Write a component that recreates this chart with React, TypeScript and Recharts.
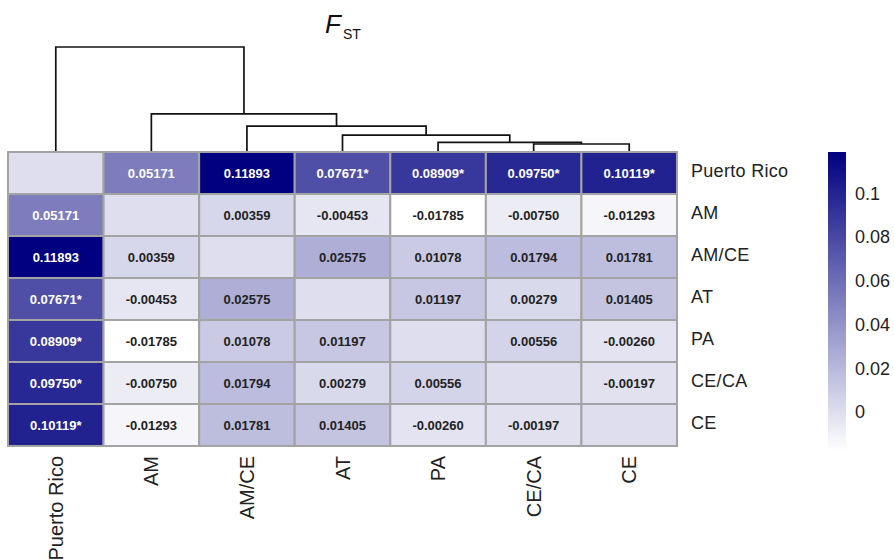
import React from 'react';
import { ScatterChart, Scatter, XAxis, YAxis, ReferenceArea, LineChart, Line, BarChart, Bar } from 'recharts';

// ---- data ----
const populations = ['Puerto Rico', 'AM', 'AM/CE', 'AT', 'PA', 'CE/CA', 'CE'];

const fstPuertoRico = [0, 0.05171, 0.11893, 0.07671, 0.08909, 0.0975, 0.10119];
const fstAM = [0.05171, 0, 0.00359, -0.00453, -0.01785, -0.0075, -0.01293];
const fstAMCE = [0.11893, 0.00359, 0, 0.02575, 0.01078, 0.01794, 0.01781];
const fstAT = [0.07671, -0.00453, 0.02575, 0, 0.01197, 0.00279, 0.01405];
const fstPA = [0.08909, -0.01785, 0.01078, 0.01197, 0, 0.00556, -0.0026];
const fstCECA = [0.0975, -0.0075, 0.01794, 0.00279, 0.00556, 0, -0.00197];
const fstCE = [0.10119, -0.01293, 0.01781, 0.01405, -0.0026, -0.00197, 0];

const fstRows = [fstPuertoRico, fstAM, fstAMCE, fstAT, fstPA, fstCECA, fstCE];

const significantPairs: [string, string][] = [
  ['Puerto Rico', 'AT'],
  ['Puerto Rico', 'PA'],
  ['Puerto Rico', 'CE/CA'],
  ['Puerto Rico', 'CE'],
];

// dendrogram (hierarchical clustering) merges; node ids 0..6 are leaves, 7.. new clusters
const mergeLeft = [5, 4, 3, 2, 1, 0];
const mergeRight = [6, 7, 8, 9, 10, 11];
const mergeHeight = [8, 9.7, 17, 26, 38.3, 105.3];

const colorbarTicks = [0, 0.02, 0.04, 0.06, 0.08, 0.1];

// ---- derived ----
const allValues = fstRows.flat();
const vmin = Math.min(...allValues);
const vmax = Math.max(...allValues);

const colorFor = (v: number) => {
  const t = (v - vmin) / (vmax - vmin);
  const r = Math.round(255 * (1 - t));
  const b = Math.round(255 - 127 * t);
  return `rgb(${r},${r},${b})`;
};

const isSig = (a: string, b: string) =>
  significantPairs.some(([p, q]) => (p === a && q === b) || (p === b && q === a));

const cells = fstRows.flatMap((row, r) =>
  row.map((value, c) => ({
    row: r,
    col: c,
    x: c + 0.5,
    y: r + 0.5,
    value,
    label: r === c ? '' : value.toFixed(5) + (isSig(populations[r], populations[c]) ? '*' : ''),
  }))
);

const rowAnchors = populations.map((name, i) => ({ name, x: 6.5, y: i + 0.5 }));

type Node = { x: number; h: number };
const nodes: Node[] = populations.map((_, i) => ({ x: i + 0.5, h: 0 }));
const dendroSegments = mergeLeft.map((li, k) => {
  const L = nodes[li];
  const R = nodes[mergeRight[k]];
  const h = mergeHeight[k];
  nodes.push({ x: (L.x + R.x) / 2, h });
  return [
    { x: L.x, y: L.h },
    { x: L.x, y: h },
    { x: R.x, y: h },
    { x: R.x, y: R.h },
  ];
});

const colorbarData = [{ name: 'scale', range: [vmin, vmax] }];

const centerTicks = populations.map((_, i) => i + 0.5);
const FONT = '"Liberation Sans", Arial, sans-serif';

const CellText = (props: any) => {
  const { cx, cy, payload } = props;
  if (cx == null || cy == null || !payload || !payload.label) return <g />;
  return (
    <text
      x={cx}
      y={cy}
      textAnchor="middle"
      dominantBaseline="central"
      fontSize={13}
      fontWeight="bold"
      fill={payload.value > 0.04 ? '#fff' : '#222'}
      fontFamily={FONT}
    >
      {payload.label}
    </text>
  );
};

const Empty = () => <g />;

const BottomTick = (props: any) => {
  const { x, y, payload } = props;
  const name = populations[Math.floor(payload.value)];
  return (
    <text
      x={x}
      y={y}
      transform={`rotate(-90, ${x}, ${y})`}
      textAnchor="end"
      dominantBaseline="central"
      fontSize={20}
      fill="#222"
      fontFamily={FONT}
    >
      {name}
    </text>
  );
};

const RightTick = (props: any) => {
  const { x, y, payload } = props;
  const name = populations[Math.floor(payload.value)];
  return (
    <text
      x={x}
      y={y - 2}
      textAnchor="start"
      dominantBaseline="central"
      fontSize={18}
      letterSpacing={0.3}
      fill="#222"
      fontFamily={FONT}
    >
      {name}
    </text>
  );
};

export default function App() {
  return (
    <div style={{ position: 'absolute', left: 0, top: 0, width: 894, height: 560, fontFamily: FONT, background: '#fff', overflow: 'hidden' }}>
      {/* title */}
      <svg width={894} height={60} style={{ position: 'absolute', left: 0, top: 0 }}>
        <text x={325} y={33} fontSize={26} fontStyle="italic" fill="#111" fontFamily={FONT}>F</text>
        <text x={343} y={39} fontSize={14} fill="#111" fontFamily={FONT}>ST</text>
      </svg>

      {/* dendrogram */}
      <div style={{ position: 'absolute', left: 0, top: 0 }}>
        <LineChart width={894} height={152} margin={{ top: 47, right: 217, bottom: 0, left: 8 }}>
          <XAxis type="number" dataKey="x" domain={[0, 7]} hide />
          <YAxis type="number" domain={[0, Math.max(...mergeHeight)]} hide />
          {dendroSegments.map((seg, i) => (
            <Line
              key={i}
              data={seg}
              dataKey="y"
              type="linear"
              stroke="#111"
              strokeWidth={1.7}
              dot={false}
              activeDot={false}
              isAnimationActive={false}
            />
          ))}
        </LineChart>
      </div>

      {/* heatmap */}
      <div style={{ position: 'absolute', left: 0, top: 0 }}>
        <ScatterChart width={894} height={560} margin={{ top: 152, right: 0, bottom: 0, left: 0 }}>
          <XAxis
            type="number"
            dataKey="x"
            domain={[0, 7]}
            ticks={centerTicks}
            height={114}
            axisLine={false}
            tickLine={false}
            tickSize={0}
            tickMargin={10}
            tick={<BottomTick />}
            interval={0}
          />
          <YAxis
            yAxisId="l"
            type="number"
            dataKey="y"
            domain={[0, 7]}
            reversed
            ticks={centerTicks}
            width={8}
            axisLine={false}
            tickLine={{ stroke: '#333', strokeWidth: 1.5 }}
            tickSize={2}
            tick={false}
            interval={0}
          />
          <YAxis
            yAxisId="r"
            orientation="right"
            type="number"
            dataKey="y"
            domain={[0, 7]}
            reversed
            ticks={centerTicks}
            width={217}
            axisLine={false}
            tickLine={false}
            tickSize={0}
            tickMargin={14}
            tick={<RightTick />}
            interval={0}
          />
          {cells.map((c) => (
            <ReferenceArea
              key={`${c.row}-${c.col}`}
              yAxisId="l"
              x1={c.col}
              x2={c.col + 1}
              y1={c.row}
              y2={c.row + 1}
              fill={colorFor(c.value)}
              fillOpacity={1}
              stroke="#a3a3a3"
              strokeWidth={2}
              ifOverflow="visible"
            />
          ))}
          <Scatter
            yAxisId="l"
            data={cells}
            dataKey="y"
            shape={<CellText />}
            isAnimationActive={false}
          />
          <Scatter
            yAxisId="r"
            data={rowAnchors}
            dataKey="y"
            shape={<Empty />}
            isAnimationActive={false}
          />
        </ScatterChart>
      </div>

      {/* colorbar */}
      <div style={{ position: 'absolute', left: 0, top: 0 }}>
        <BarChart
          width={894}
          height={560}
          data={colorbarData}
          margin={{ top: 152, right: 0, bottom: 109, left: 828 }}
          barCategoryGap={0}
          barGap={0}
        >
          <defs>
            <linearGradient id="fstGrad" x1="0" y1="0" x2="0" y2="1">
              <stop offset="0%" stopColor="#000080" />
              <stop offset="100%" stopColor="#ffffff" />
            </linearGradient>
          </defs>
          <XAxis dataKey="name" hide />
          <YAxis
            orientation="right"
            type="number"
            domain={[vmin, vmax]}
            ticks={colorbarTicks}
            width={48}
            axisLine={false}
            tickLine={false}
            tickSize={0}
            tickMargin={9}
            tick={{ fontSize: 18, fill: '#222', fontFamily: FONT }}
            tickFormatter={(v: number) => String(+v.toFixed(2))}
            allowDataOverflow
          />
          <Bar dataKey="range" fill="url(#fstGrad)" isAnimationActive={false} />
        </BarChart>
      </div>
    </div>
  );
}
